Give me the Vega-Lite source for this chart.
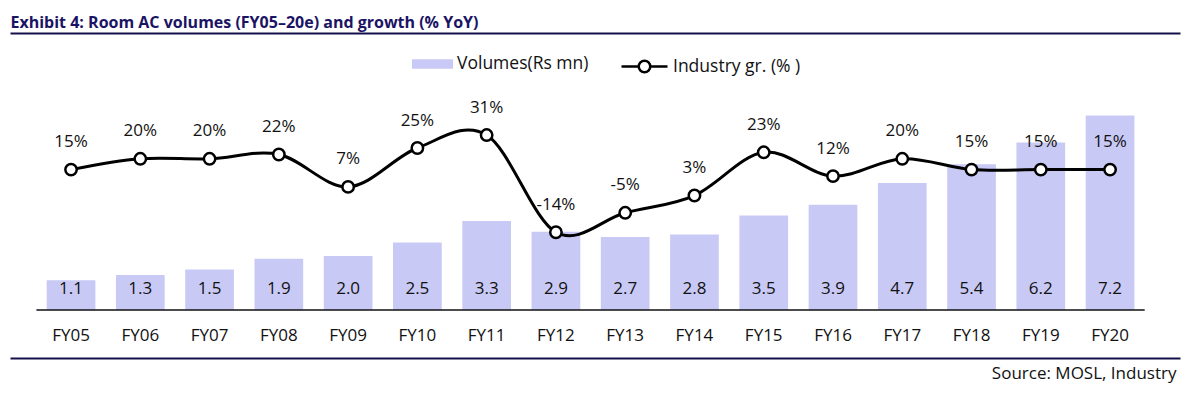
{
  "$schema": "https://vega.github.io/schema/vega-lite/v6.json",
  "autosize": "none",
  "width": 1170,
  "height": 325,
  "padding": {"left": 10, "top": 33, "right": 7, "bottom": 37},
  "background": "#ffffff",
  "config": {"view": {"stroke": null}, "font": "Open Sans"},
  "data": {
    "values": [
      {"cat": "FY05", "vol": 1.1, "pct": 15},
      {"cat": "FY06", "vol": 1.3, "pct": 20},
      {"cat": "FY07", "vol": 1.5, "pct": 20},
      {"cat": "FY08", "vol": 1.9, "pct": 22},
      {"cat": "FY09", "vol": 2.0, "pct": 7},
      {"cat": "FY10", "vol": 2.5, "pct": 25},
      {"cat": "FY11", "vol": 3.3, "pct": 31},
      {"cat": "FY12", "vol": 2.9, "pct": -14},
      {"cat": "FY13", "vol": 2.7, "pct": -5},
      {"cat": "FY14", "vol": 2.8, "pct": 3},
      {"cat": "FY15", "vol": 3.5, "pct": 23},
      {"cat": "FY16", "vol": 3.9, "pct": 12},
      {"cat": "FY17", "vol": 4.7, "pct": 20},
      {"cat": "FY18", "vol": 5.4, "pct": 15},
      {"cat": "FY19", "vol": 6.2, "pct": 15},
      {"cat": "FY20", "vol": 7.2, "pct": 15}
    ]
  },
  "layer": [
    {
      "encoding": {
        "x": {
          "field": "cat", "type": "nominal", "sort": null,
          "scale": {"paddingInner": 0, "paddingOuter": 0.4454, "align": 0.428},
          "axis": {
            "orient": "bottom", "domainColor": "#15104a", "domainWidth": 2,
            "labels": false, "ticks": false, "grid": false,
            "title": "Source: MOSL, Industry", "titleX": 1166, "titleAlign": "right",
            "titleFont": "Open Sans", "titleFontSize": 17, "titleFontWeight": "normal",
            "titleColor": "#111111", "titlePadding": 7
          }
        }
      },
      "layer": [
        {
          "mark": {"type": "bar", "width": {"band": 0.703}},
          "encoding": {
            "y": {"field": "vol", "type": "quantitative", "scale": {"domain": [-1.778, 10.259], "nice": false, "zero": false}, "axis": null},
            "fill": {
              "datum": "Volumes(Rs mn)",
              "scale": {"range": ["#c9c9f6"]},
              "legend": {
                "orient": "none", "legendX": 402, "legendY": 10.5, "title": null,
                "symbolType": "M-1,-0.23H1V0.23H-1Z", "symbolSize": 1681, "symbolStrokeWidth": 0,
                "labelFont": "Open Sans", "labelFontSize": 17.5, "labelColor": "#111111",
                "labelOffset": 4, "padding": 0
              }
            }
          }
        },
        {
          "mark": {"type": "text", "dy": -21, "baseline": "middle", "font": "Open Sans", "fontSize": 17, "fill": "#111111"},
          "encoding": {
            "y": {"datum": 0, "type": "quantitative"},
            "text": {"field": "vol", "type": "quantitative", "format": ".1f"}
          }
        },
        {
          "mark": {"type": "text", "dy": 26, "baseline": "middle", "font": "Open Sans", "fontSize": 17, "fill": "#111111"},
          "encoding": {
            "y": {"datum": 0, "type": "quantitative"},
            "text": {"field": "cat", "type": "nominal"}
          }
        },
        {
          "data": {"values": [{}]},
          "mark": {"type": "rule", "color": "#111111", "strokeWidth": 1.5},
          "encoding": {
            "x": {"datum": "FY05", "bandPosition": 0},
            "x2": {"datum": "FY20", "bandPosition": 1},
            "y": {"datum": 0, "type": "quantitative"}
          }
        }
      ]
    },
    {
      "encoding": {
        "x": {
          "field": "cat", "type": "nominal", "sort": null,
          "scale": {"paddingInner": 0, "paddingOuter": 0.4454, "align": 0.428},
          "axis": {
            "orient": "top", "domainColor": "#15104a", "domainWidth": 2,
            "labels": false, "ticks": false, "grid": false,
            "title": "Exhibit 4: Room AC volumes (FY05–20e) and growth (% YoY)",
            "titleAnchor": "start", "titleFont": "Open Sans", "titleFontSize": 16,
            "titleFontWeight": "bold", "titleColor": "#1b1464", "titlePadding": 3
          }
        },
        "y": {"field": "pct", "type": "quantitative", "scale": {"domain": [-72.22, 78.24], "nice": false, "zero": false}, "axis": null}
      },
      "layer": [
        {
          "mark": {"type": "line", "interpolate": "cardinal", "strokeWidth": 3},
          "encoding": {
            "stroke": {
              "datum": "Industry gr. (% )",
              "scale": {"range": ["#000000"]},
              "legend": {
                "orient": "none", "legendX": 610, "legendY": 9, "title": null,
                "symbolType": "M-1,0H-0.25M0.25,0H1M-0.25,0A0.25,0.25,0,1,1,0.25,0A0.25,0.25,0,1,1,-0.25,0Z",
                "symbolSize": 2116, "symbolStrokeWidth": 2.5, "symbolFillColor": "#ffffff",
                "labelFont": "Open Sans", "labelFontSize": 17.5, "labelColor": "#111111",
                "labelOffset": 4, "padding": 0
              }
            }
          }
        },
        {
          "mark": {"type": "point", "shape": "circle", "filled": true, "fill": "#ffffff", "stroke": "#000000", "strokeWidth": 2.5, "size": 130, "opacity": 1}
        },
        {
          "mark": {"type": "text", "dy": -27.5, "baseline": "middle", "font": "Open Sans", "fontSize": 17, "fill": "#111111", "text": {"expr": "datum.pct + '%'"}}
        }
      ]
    }
  ],
  "resolve": {"scale": {"y": "independent"}, "axis": {"x": "independent"}}
}
